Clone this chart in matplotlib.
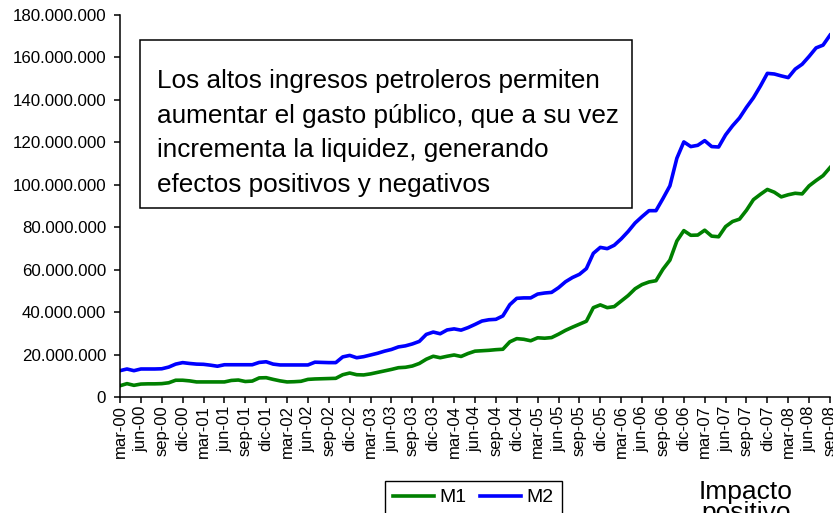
import numpy as np
import matplotlib
matplotlib.use("Agg")
import matplotlib.pyplot as plt
from matplotlib.patches import Rectangle
from matplotlib.ticker import FuncFormatter, MultipleLocator

plt.rcParams['font.family'] = ['Liberation Sans', 'DejaVu Sans']

# monthly data, mar-00 .. sep-08 (millions)
m1 = [5.3, 6.3, 5.5, 6.1, 6.2, 6.2, 6.3, 6.7, 7.9, 7.9, 7.6, 7.1,
      7.1, 7.1, 7.1, 7.1, 7.8, 8.0, 7.3, 7.5, 9.0, 9.1, 8.3, 7.6,
      7.1, 7.2, 7.4, 8.3, 8.5, 8.6, 8.7, 8.8, 10.5, 11.3, 10.5, 10.4,
      10.9, 11.6, 12.3, 13.0, 13.8, 14.0, 14.6, 15.8, 17.8, 19.2, 18.5, 19.2,
      19.8, 19.1, 20.5, 21.6, 21.8, 22.0, 22.3, 22.5, 26.0, 27.5, 27.2, 26.5,
      27.9, 27.7, 28.0, 29.6, 31.4, 32.9, 34.3, 35.7, 42.1, 43.4, 42.1, 42.6,
      45.2, 47.8, 51.0, 53.0, 54.2, 54.8, 60.2, 64.5, 73.5, 78.4, 76.2, 76.3,
      78.6, 75.8, 75.5, 80.3, 82.7, 83.8, 88.0, 93.0, 95.5, 97.8, 96.5, 94.3,
      95.3, 96.0, 95.7, 99.5, 102.0, 104.3, 108.1]
m2 = [12.4, 13.2, 12.4, 13.2, 13.2, 13.2, 13.3, 14.1, 15.5, 16.2, 15.8, 15.5,
      15.4, 15.0, 14.5, 15.2, 15.2, 15.2, 15.2, 15.2, 16.3, 16.6, 15.5, 15.1,
      15.1, 15.1, 15.1, 15.1, 16.4, 16.3, 16.2, 16.2, 18.9, 19.6, 18.5, 19.0,
      19.8, 20.6, 21.6, 22.4, 23.6, 24.1, 25.0, 26.2, 29.5, 30.6, 29.8, 31.6,
      32.1, 31.5, 32.7, 34.2, 35.8, 36.4, 36.6, 38.2, 43.5, 46.5, 46.7, 46.7,
      48.5, 49.0, 49.3, 51.5, 54.3, 56.3, 57.8, 60.5, 67.7, 70.5, 69.9, 71.5,
      74.5, 78.0, 82.0, 85.0, 87.8, 87.8, 93.5, 99.5, 112.5, 120.2, 118.0, 118.6,
      120.8, 118.0, 117.8, 123.5, 127.8, 131.5, 136.5, 141.0, 146.5, 152.5, 152.2, 151.3,
      150.5, 154.5, 156.8, 160.5, 164.5, 165.8, 170.5]

meses = ["mar", "jun", "sep", "dic"]
tick_labels = []
for year in range(0, 9):
    for m in meses:
        if year == 8 and m == "dic":
            continue
        tick_labels.append("%s-%02d" % (m, year))

m1 = np.array(m1) * 1e6
m2 = np.array(m2) * 1e6
x = np.arange(len(m1))

W, H = 833, 513
fig = plt.figure(figsize=(W / 100, H / 100), dpi=100)
ax = fig.add_axes([120 / W, 1 - 397 / H, (830 - 120) / W, (397 - 15) / H])

l1, = ax.plot(x, m1, color='#008000', lw=2.6, label='M1', solid_joinstyle='round')
l2, = ax.plot(x, m2, color='#0000FF', lw=2.6, label='M2', solid_joinstyle='round')

ax.set_xlim(0, 102)
ax.set_ylim(0, 180e6)
ax.set_xticks(np.arange(0, 103, 3))
ax.set_xticklabels(tick_labels, rotation=90, fontsize=12)
ax.yaxis.set_major_locator(MultipleLocator(20e6))
ax.yaxis.set_major_formatter(FuncFormatter(lambda v, p: "{:,.0f}".format(v).replace(",", ".")))
ax.tick_params(axis='y', labelsize=12.2, length=4, width=1.1, pad=6)
ax.tick_params(axis='x', length=4, width=1.1, pad=2)
for s in ['top', 'right']:
    ax.spines[s].set_visible(False)
for s in ['left', 'bottom']:
    ax.spines[s].set_linewidth(1.1)

# text box
fig.add_artist(Rectangle((140 / W, 1 - 208 / H), 492 / W, 168 / H, transform=fig.transFigure,
                         facecolor='white', edgecolor='black', lw=1.1))
fig.text(157 / W, 1 - 69 / H,
         "Los altos ingresos petroleros permiten\naumentar el gasto público, que a su vez\n"
         "incrementa la liquidez, generando\nefectos positivos y negativos",
         fontsize=18.8, va='top', ha='left', linespacing=1.56)

fig.legend(handles=[l1, l2], loc='upper left', bbox_to_anchor=(385 / W, 1 - 481 / H),
           ncol=2, fontsize=14, frameon=True, fancybox=False, edgecolor='black',
           framealpha=1, borderpad=0.4, handlelength=2.1, handletextpad=0.3,
           columnspacing=0.7, borderaxespad=0)

fig.text(746 / W, 1 - 480 / H, "Impacto\npositivo", fontsize=19, ha='center', va='top',
         linespacing=0.86)

fig.savefig("out.png", dpi=100)
